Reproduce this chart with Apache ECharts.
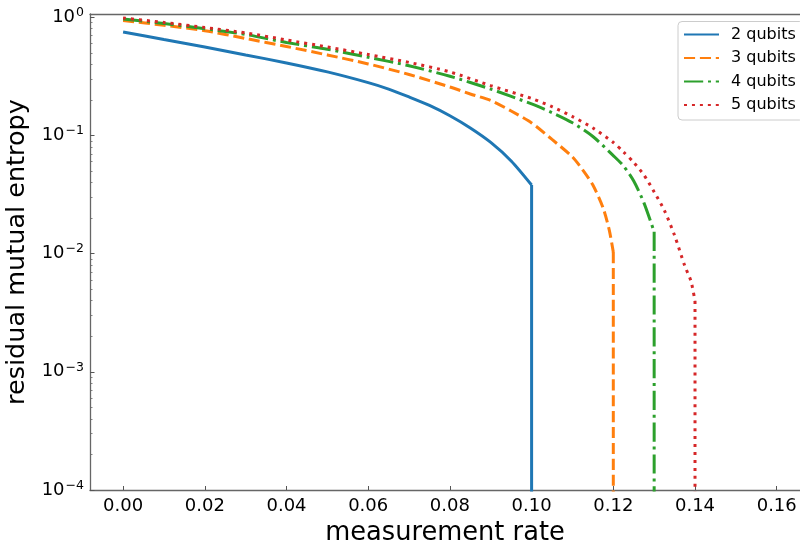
<!DOCTYPE html>
<html>
<head>
<meta charset="utf-8">
<script src="https://cdn.jsdelivr.net/npm/echarts@6/dist/echarts.min.js"></script>
<style>html,body{margin:0;padding:0;background:#fff}#c{width:800px;height:540px}</style>
</head>
<body>
<div id="c"></div>
<script>
// ---- data ----
const seriesNames = ['2 qubits', '3 qubits', '4 qubits', '5 qubits'];

const rate2 = [0, 0.01, 0.02, 0.03, 0.04, 0.05, 0.06, 0.065, 0.07, 0.075, 0.08, 0.085, 0.09, 0.095, 0.1];
const entropy2 = [0.751, 0.649, 0.561, 0.480, 0.411, 0.345, 0.280, 0.247, 0.2117, 0.1795, 0.1468, 0.1157, 0.0873, 0.0609, 0.0381];

const rate3 = [0, 0.01, 0.02, 0.03, 0.04, 0.05, 0.06, 0.07, 0.08, 0.085, 0.09, 0.095, 0.1, 0.105, 0.11, 0.1125, 0.115, 0.1175, 0.119, 0.12];
const entropy3 = [0.939, 0.856, 0.770, 0.662, 0.566, 0.480, 0.403, 0.328, 0.257, 0.2244, 0.1977, 0.161, 0.1276, 0.0925, 0.0658, 0.0511, 0.0381, 0.0244, 0.0159, 0.0103];

const rate4 = [0, 0.01, 0.02, 0.03, 0.04, 0.05, 0.06, 0.07, 0.08, 0.09, 0.1, 0.105, 0.11, 0.115, 0.12, 0.1225, 0.125, 0.1275, 0.13];
const entropy4 = [0.967, 0.886, 0.801, 0.715, 0.612, 0.536, 0.459, 0.389, 0.317, 0.247, 0.1847, 0.156, 0.128, 0.098, 0.0675, 0.0552, 0.0412, 0.0269, 0.0153];

const rate5 = [0, 0.01, 0.02, 0.03, 0.04, 0.05, 0.06, 0.07, 0.08, 0.09, 0.1, 0.105, 0.11, 0.115, 0.12, 0.1225, 0.125, 0.1275, 0.13, 0.1325, 0.135, 0.1375, 0.139, 0.14];
const entropy5 = [0.986, 0.904, 0.820, 0.737, 0.643, 0.561, 0.484, 0.415, 0.345, 0.264, 0.2056, 0.175, 0.1445, 0.1157, 0.0872, 0.0725, 0.0591, 0.0463, 0.0333, 0.0232, 0.01426, 0.00787, 0.00588, 0.00398];

// entropy drops to zero at the end of each curve (drawn to below the axis floor)
const dropValue = 1e-6;

const xTicks = [0, 0.02, 0.04, 0.06, 0.08, 0.10, 0.12, 0.14, 0.16];
const yTicks = [1e-4, 1e-3, 1e-2, 1e-1, 1];
const yMinorTicks = [];
[1e-4, 1e-3, 1e-2, 1e-1].forEach(function (d) { for (let k = 2; k <= 9; k++) yMinorTicks.push(+(k * d).toPrecision(3)); });

// ---- chart ----
const FONT = 'DejaVu Sans';
const colors = ['#1f77b4', '#ff7f0e', '#2ca02c', '#d62728'];
const lw = 3;
const dashes = ['solid', [3.7 * lw, 1.6 * lw], [6.4 * lw, 1.6 * lw, 1 * lw, 1.6 * lw], [1 * lw, 1.65 * lw]];
const xs = [rate2, rate3, rate4, rate5];
const ys = [entropy2, entropy3, entropy4, entropy5];
const spine = { color: '#666', width: 1.3 };

function zip(a, b) { return a.map(function (v, i) { return [v, b[i]]; }); }

const series = [];
seriesNames.forEach(function (name, i) {
  const style = { color: colors[i], width: lw, type: dashes[i], cap: 'butt' };
  series.push({
    name: name, type: 'line', data: zip(xs[i], ys[i]),
    symbol: 'none', showSymbol: false, clip: true, smooth: 0.25,
    color: colors[i], lineStyle: style, z: 2 + i
  });
});
seriesNames.forEach(function (name, i) {
  const n = xs[i].length - 1;
  series.push({
    name: name, type: 'line',
    data: [[xs[i][n], ys[i][n]], [xs[i][n], dropValue]],
    symbol: 'none', showSymbol: false, clip: true,
    color: colors[i], lineStyle: { color: colors[i], width: lw, type: dashes[i], cap: 'butt' }, z: 2 + i
  });
});

const chart = echarts.init(document.getElementById('c'), null, { renderer: 'canvas' });
chart.setOption({
  animation: false,
  backgroundColor: '#fff',
  grid: { left: 90, right: 0, top: 14, bottom: 50, outerBoundsMode: 'none', containLabel: false },
  xAxis: [{
    type: 'value', min: -0.0081, max: 0.1657,
    axisLine: { show: true, onZero: false, lineStyle: spine },
    axisTick: { show: true, inside: true, length: 4, customValues: xTicks, lineStyle: { color: '#555', width: 1 } },
    axisLabel: { customValues: xTicks, formatter: function (v) { return v.toFixed(2); }, fontSize: 18, fontFamily: FONT, color: '#000', margin: 7 },
    splitLine: { show: false },
    name: 'measurement rate', nameLocation: 'middle', nameGap: 17,
    nameTextStyle: { fontSize: 25.7, fontFamily: FONT, color: '#000' }
  }, {
    type: 'value', position: 'top', min: -0.0081, max: 0.1657,
    axisLine: { show: true, onZero: false, lineStyle: spine },
    axisTick: { show: false }, axisLabel: { show: false }, splitLine: { show: false }
  }],
  yAxis: [{
    type: 'log', logBase: 10, min: 1e-4, max: 1.066,
    axisLine: { show: true, onZero: false, lineStyle: spine },
    axisTick: { show: true, inside: true, length: 4.5, customValues: yTicks, lineStyle: { color: '#555', width: 1 } },
    axisLabel: {
      customValues: yTicks, margin: 6, color: '#000',
      formatter: function (v) {
        const e = Math.round(Math.log10(v));
        return '{n|10}{s|' + (e < 0 ? '\u2212' + (-e) : e) + '}';
      },
      rich: {
        n: { fontSize: 18, fontFamily: FONT, color: '#000' },
        s: { fontSize: 12.5, fontFamily: FONT, color: '#000', padding: [0, 0, 9, 1] }
      }
    },
    splitLine: { show: false },
    name: 'residual mutual entropy', nameLocation: 'middle', nameGap: 52,
    nameTextStyle: { fontSize: 25.5, fontFamily: FONT, color: '#000' }
  }, {
    type: 'log', logBase: 10, min: 1e-4, max: 1.066, position: 'left',
    axisLine: { show: false, onZero: false },
    axisTick: { show: true, inside: true, length: 2.5, customValues: yMinorTicks, lineStyle: { color: '#666', width: 0.8 } },
    axisLabel: { show: false }, splitLine: { show: false }
  }],
  legend: {
    orient: 'vertical', left: 678, top: 21.5,
    padding: [4, 8, 6, 5],
    itemWidth: 35, itemHeight: 14, itemGap: 5.5,
    data: seriesNames,
    itemStyle: { opacity: 0 },
    textStyle: { fontSize: 16, fontFamily: FONT, color: '#000', lineHeight: 18, padding: [0, 0, 0, 7] },
    borderColor: '#ccc', borderWidth: 1, borderRadius: 4,
    backgroundColor: 'rgba(255,255,255,0.8)'
  },
  series: series
});
</script>
</body>
</html>
